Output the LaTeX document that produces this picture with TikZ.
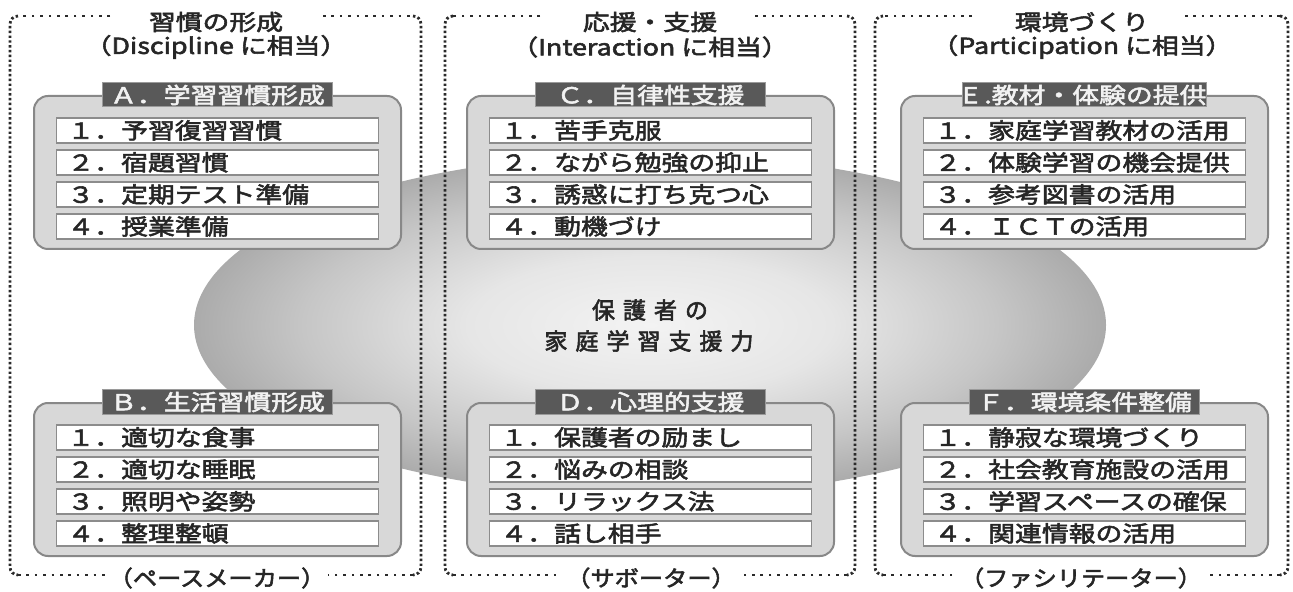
\documentclass[tikz,border=0pt]{standalone}
\usepackage{fontspec}
\usetikzlibrary{shapes.geometric}
\setmainfont{Noto Sans CJK JP}
\newfontfamily\jpw{Noto Sans CJK JP}[FakeStretch=1.22,FakeBold=2.5]
\newfontfamily\jpb{Noto Sans CJK JP}[FakeStretch=1.1,FakeBold=2.5]
\newfontfamily\jpc{Noto Sans CJK JP}[FakeBold=2.5]
\definecolor{ellA}{HTML}{F3F3F3}
\definecolor{ellB}{HTML}{E6E6E6}
\definecolor{ellC}{HTML}{D8D8D8}
\definecolor{ellD}{HTML}{C6C6C6}
\definecolor{ellE}{HTML}{ABABAB}
\definecolor{panelfill}{HTML}{D8D8D8}
\definecolor{panelline}{HTML}{888888}
\definecolor{itemline}{HTML}{8C8C8C}
\definecolor{headfill}{HTML}{595959}
\definecolor{headline}{HTML}{9A9A9A}
\definecolor{headtext}{HTML}{F2F2F2}
\definecolor{textdark}{HTML}{262626}
\definecolor{dotcol}{HTML}{2A2A2A}
\pgfdeclareradialshading{ellsh}{\pgfpoint{0bp}{0bp}}{color(0bp)=(ellA); color(10bp)=(ellB); color(14bp)=(ellC); color(19bp)=(ellD); color(25bp)=(ellE); color(50bp)=(ellE)}
\newcommand\kspc{\kern4pt}
\tikzset{
  panelbox/.style={draw=panelline, fill=panelfill, line width=1pt, rounded corners=7pt,
    minimum width=183.5pt, minimum height=76.5pt, inner sep=0pt},
  itembox/.style={draw=itemline, fill=white, line width=0.9pt, minimum height=12.5pt,
    text width=150pt, inner xsep=5.5pt, inner ysep=0pt, align=left,
    font=\jpw\fontsize{11pt}{12pt}\selectfont, text=textdark},
  headbox/.style={draw=headline, fill=headfill, line width=0.5pt, minimum width=115pt,
    minimum height=12pt, inner sep=0pt, font=\jpw\fontsize{11pt}{12pt}\selectfont, text=headtext},
  titletext/.style={font=\jpw\fontsize{11pt}{12pt}\selectfont, text=textdark, inner sep=0pt},
  foottext/.style={font=\jpb\fontsize{11pt}{12pt}\selectfont, text=textdark, inner sep=0pt},
  centertext/.style={font=\jpc\fontsize{11.5pt}{12pt}\selectfont, text=textdark, inner sep=0pt},
  hdot/.style={draw=dotcol, line width=1.4pt, dash pattern=on 1.3pt off 2.9pt},
  vdot/.style={draw=dotcol, line width=1.4pt, dash pattern=on 1.2pt off 1.2pt},
}
% #1 left #2 right #3 top #4 bottom #5 top gap left #6 top gap right #7 bottom gap left #8 bottom gap right
\newcommand\dotframe[8]{%
  \draw[hdot] (#5,#3) -- (#1+8,#3);
  \draw[vdot, rounded corners=4pt] (#1+8,#3) -- (#1,#3) -- (#1,#4) -- (#1+8,#4);
  \draw[hdot] (#1+8,#4) -- (#7,#4);
  \draw[hdot] (#6,#3) -- (#2-8,#3);
  \draw[vdot, rounded corners=4pt] (#2-8,#3) -- (#2,#3) -- (#2,#4) -- (#2-8,#4);
  \draw[hdot] (#2-8,#4) -- (#8,#4);
}
% #1 name #2 x #3 y #4 header #5..#8 items
\newcommand\grouppanel[8]{%
  \node[panelbox, anchor=north west] (#1) at (#2,#3) {};
  \node[itembox, anchor=north] (#1a) at ([yshift=-11pt]#1.north) {#5};
  \node[itembox, anchor=north] (#1b) at ([yshift=-16pt]#1a.north) {#6};
  \node[itembox, anchor=north] (#1c) at ([yshift=-16pt]#1b.north) {#7};
  \node[itembox, anchor=north] (#1d) at ([yshift=-16pt]#1c.north) {#8};
  \node[headbox] (#1h) at (#1.north) {#4};
}
\begin{document}
\begin{tikzpicture}[x=0.5pt,y=-0.5pt]
\useasboundingbox (0,0) rectangle (1293,592);
\fill[white] (0,0) rectangle (1293,592);
% central ellipse
\node[ellipse, shading=ellsh, minimum width=456pt, minimum height=171pt, inner sep=0pt] (core) at (650,325) {};
% dotted frames
\dotframe{10}{421}{16}{575}{110}{323}{108}{328}
\dotframe{445}{855}{16}{575}{540}{755}{562}{742}
\dotframe{875}{1288}{16}{575}{972}{1185}{952}{1210}
% titles
\node[titletext] (t1) at (216,22) {習慣の形成};
\node[titletext] (t1s) at (216,47) {（Discipline に相当）};
\node[titletext] (t2) at (650,22) {応援・支援};
\node[titletext] (t2s) at (650,47) {（Interaction に相当）};
\node[titletext] (t3) at (1082,22) {環境づくり};
\node[titletext] (t3s) at (1082,47) {（Participation に相当）};
% footers
\node[foottext] (f1) at (217,578) {（ペースメーカー）};
\node[foottext] (f2) at (651,578) {（サボーター）};
\node[foottext] (f3) at (1081,578) {（ファシリテーター）};
% panels
\grouppanel{A}{33}{95}{Ａ．学習習慣形成}{１．予習復習習慣}{２．宿題習慣}{３．定期テスト準備}{４．授業準備}
\grouppanel{B}{33}{402}{Ｂ．生活習慣形成}{１．適切な食事}{２．適切な睡眠}{３．照明や姿勢}{４．整理整頓}
\grouppanel{C}{466}{95}{Ｃ．自律性支援}{１．苦手克服}{２．ながら勉強の抑止}{３．誘惑に打ち克つ心}{４．動機づけ}
\grouppanel{D}{466}{402}{Ｄ．心理的支援}{１．保護者の励まし}{２．悩みの相談}{３．リラックス法}{４．話し相手}
\grouppanel{E}{900}{95}{E .教材・体験の提供}{１．家庭学習教材の活用}{２．体験学習の機会提供}{３．参考図書の活用}{４．ＩＣＴの活用}
\grouppanel{F}{900}{402}{Ｆ．環境条件整備}{１．静寂な環境づくり}{２．社会教育施設の活用}{３．学習スペースの確保}{４．関連情報の活用}
% centre text
\node[centertext] (c1) at (650,310) {保\kspc 護\kspc 者\kspc の};
\node[centertext] (c2) at (649,341) {家\kspc 庭\kspc 学\kspc 習\kspc 支\kspc 援\kspc 力};
\end{tikzpicture}
\end{document}
